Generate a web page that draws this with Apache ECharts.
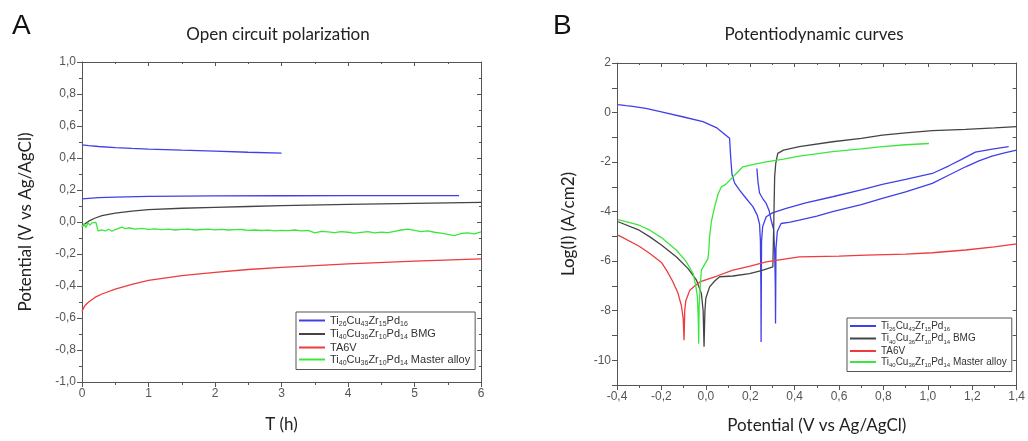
<!DOCTYPE html>
<html lang="en">
<head>
<meta charset="UTF-8">
<style>
  html, body { margin: 0; height: 100%; background: #fff; }
  #chart { width: 1028px; height: 441px; }
</style>
</head>
<body>
<div id="chart"></div>
<script src="https://cdn.jsdelivr.net/npm/echarts@6/dist/echarts.min.js"></script>
<script>
// ---- legend names ----
var seriesNames = ['Ti26Cu43Zr15Pd16', 'Ti40Cu36Zr10Pd14 BMG', 'TA6V', 'Ti40Cu36Zr10Pd14 Master alloy'];

// ---- A: open circuit polarization (T in h, potential in V) ----
var ocpBlueUpT = [0, 0.1, 0.25, 0.5, 0.75, 1, 1.5, 2, 2.5, 3];
var ocpBlueUpV = [0.482, 0.477, 0.472, 0.465, 0.46, 0.456, 0.449, 0.443, 0.436, 0.43];
var ocpBlueLowT = [0, 0.1, 0.25, 0.5, 1, 1.5, 2, 3, 4, 5, 5.67];
var ocpBlueLowV = [0.145, 0.148, 0.152, 0.156, 0.16, 0.162, 0.163, 0.164, 0.165, 0.165, 0.165];
var ocpBlackT = [0, 0.05, 0.1, 0.2, 0.3, 0.5, 0.75, 1, 1.5, 2, 2.5, 3, 4, 5, 6];
var ocpBlackV = [-0.03, -0.01, 0.005, 0.025, 0.04, 0.055, 0.068, 0.077, 0.086, 0.092, 0.097, 0.102, 0.11, 0.117, 0.123];
var ocpRedT = [0, 0.02, 0.05, 0.1, 0.2, 0.3, 0.5, 0.75, 1, 1.5, 2, 2.5, 3, 4, 5, 6];
var ocpRedV = [-0.56, -0.54, -0.52, -0.5, -0.47, -0.45, -0.42, -0.39, -0.365, -0.335, -0.315, -0.297, -0.283, -0.262, -0.245, -0.23];
var ocpGreenT = [0, 0.03, 0.06, 0.09, 0.12, 0.15, 0.18, 0.21, 0.24, 0.27, 0.3, 0.35, 0.4, 0.45, 0.5, 0.55, 0.6, 0.65,
  0.7, 0.8, 0.9, 1.0, 1.1, 1.2, 1.3, 1.4, 1.5, 1.6, 1.7, 1.8, 1.9, 2.0, 2.1, 2.2, 2.3, 2.4, 2.5, 2.6, 2.7, 2.8, 2.9,
  3.0, 3.1, 3.2, 3.3, 3.4, 3.5, 3.6, 3.7, 3.8, 3.9, 4.0, 4.1, 4.2, 4.3, 4.4, 4.5, 4.6, 4.7, 4.8, 4.9, 5.0, 5.1, 5.2,
  5.3, 5.4, 5.5, 5.6, 5.7, 5.8, 5.9, 6.0];
var ocpGreenV = [-0.03, -0.01, -0.035, -0.005, -0.02, -0.005, 0.0, -0.002, -0.055, -0.06, -0.05, -0.056, -0.045, -0.058, -0.048, -0.04, -0.032, -0.042,
  -0.036, -0.045, -0.04, -0.046, -0.043, -0.048, -0.044, -0.05, -0.046, -0.045, -0.05, -0.047, -0.044, -0.049, -0.046, -0.05, -0.048, -0.047, -0.052, -0.05, -0.053, -0.051, -0.055,
  -0.052, -0.054, -0.05, -0.056, -0.053, -0.068, -0.058, -0.062, -0.066, -0.06, -0.064, -0.07, -0.065, -0.06, -0.068, -0.063, -0.066, -0.058, -0.05, -0.044, -0.052, -0.06, -0.056,
  -0.064, -0.07, -0.078, -0.085, -0.072, -0.068, -0.074, -0.062];

// ---- B: potentiodynamic curves (potential in V, log I) ----
var pdBlue1E = [-0.395, -0.36, -0.33, -0.27, -0.2, -0.1, -0.013, 0.05, 0.107, 0.112, 0.118, 0.13, 0.152, 0.18, 0.212, 0.232, 0.242, 0.246, 0.248, 0.249,
  0.251, 0.256, 0.272, 0.3, 0.362, 0.45, 0.571, 0.7, 0.795, 0.9, 1.02, 1.095, 1.15, 1.214, 1.29, 1.364];
var pdBlue1L = [0.32, 0.28, 0.25, 0.17, 0.03, -0.18, -0.37, -0.62, -1.04, -1.8, -2.5, -2.85, -3.13, -3.45, -3.8, -4.15, -4.5, -5.2, -7.0, -9.26,
  -5.2, -4.6, -4.21, -4.05, -3.87, -3.65, -3.4, -3.12, -2.9, -2.7, -2.46, -2.15, -1.9, -1.6, -1.48, -1.38];
var pdBlue2E = [0.23, 0.235, 0.242, 0.258, 0.272, 0.285, 0.294, 0.305, 0.31, 0.313, 0.314, 0.316, 0.322, 0.339, 0.38, 0.421, 0.5, 0.571,
  0.7, 0.795, 0.9, 1.02, 1.1, 1.17, 1.23, 1.289, 1.35, 1.4];
var pdBlue2L = [-2.26, -2.8, -3.25, -3.5, -3.67, -3.95, -4.34, -4.7, -5.5, -7.0, -8.52, -5.5, -4.8, -4.48, -4.42, -4.34, -4.18, -4.0,
  -3.72, -3.47, -3.2, -2.86, -2.5, -2.19, -1.95, -1.76, -1.62, -1.52];
var pdBlackE = [-0.395, -0.3, -0.252, -0.2, -0.132, -0.08, -0.042, -0.02, -0.012, -0.008, -0.004, 0.0, 0.017, 0.04, 0.062, 0.122, 0.197, 0.25,
  0.302, 0.306, 0.31, 0.315, 0.324, 0.35, 0.421, 0.571, 0.7, 0.795, 0.9, 1.02, 1.17, 1.3, 1.4];
var pdBlackL = [-4.41, -4.75, -5.02, -5.35, -5.83, -6.3, -6.77, -7.3, -8.0, -9.46, -8.0, -7.5, -7.04, -6.8, -6.63, -6.6, -6.5, -6.38,
  -6.23, -4.5, -2.6, -2.05, -1.65, -1.52, -1.38, -1.18, -1.04, -0.91, -0.82, -0.73, -0.68, -0.62, -0.57];
var pdRedE = [-0.395, -0.3, -0.252, -0.2, -0.177, -0.15, -0.125, -0.11, -0.102, -0.098, -0.095, -0.09, -0.072, -0.05, -0.027, 0.05, 0.122,
  0.2, 0.272, 0.421, 0.6, 0.721, 0.9, 1.02, 1.17, 1.3, 1.4];
var pdRedL = [-4.95, -5.4, -5.69, -6.05, -6.36, -6.8, -7.3, -7.8, -8.3, -9.19, -8.0, -7.6, -7.17, -7.0, -6.84, -6.6, -6.36,
  -6.2, -6.03, -5.83, -5.8, -5.76, -5.72, -5.66, -5.55, -5.42, -5.3];
var pdGreenE = [-0.395, -0.3, -0.252, -0.2, -0.132, -0.09, -0.057, -0.045, -0.038, -0.034, -0.032, -0.03, -0.025, -0.02, 0.0, 0.01, 0.014,
  0.017, 0.025, 0.04, 0.055, 0.07, 0.09, 0.122, 0.167, 0.22, 0.272, 0.35, 0.421, 0.571, 0.7, 0.795, 0.9, 1.005];
var pdGreenL = [-4.32, -4.55, -4.75, -5.05, -5.56, -6.0, -6.5, -7.0, -7.44, -8.3, -9.33, -7.8, -7.0, -6.36, -6.05, -5.89, -5.5,
  -5.02, -4.4, -3.8, -3.3, -3.0, -2.9, -2.6, -2.19, -2.08, -1.99, -1.88, -1.76, -1.58, -1.47, -1.38, -1.3, -1.25];

var colors = { blue: '#4040e8', black: '#444444', red: '#ee3b3b', green: '#3ce63c' };

function pairs(xs, ys) {
    var out = [];
    for (var i = 0; i < xs.length; i++) out.push([xs[i], ys[i]]);
    return out;
}

function comma(v) {
    return v.toFixed(1).replace('.', ',');
}

// chemical formula -> rich text with subscripts
function legendText(name) {
    if (name.indexOf('Ti') !== 0) return '{n|' + name + '}';
    var parts = name.split(' ');
    var formula = parts[0].replace(/([A-Za-z]+)(\d+)/g, '{n|$1}{s|$2}');
    var rest = parts.slice(1).join(' ');
    return formula + (rest ? '{n| ' + rest + '}' : '');
}

var labelStyle = { fontFamily: 'Liberation Sans', fontSize: 12, color: '#555' };
var nameStyle = { fontFamily: 'Lato', fontSize: 17, color: '#222' };
var lineCol = '#555';

function mainAxis(pos, grid, opts) {
    var ax = {
        type: 'value', gridIndex: grid, position: pos,
        min: opts.min, max: opts.max, interval: opts.interval,
        axisLine: { show: true, onZero: false, lineStyle: { color: lineCol, width: 1 } },
        axisTick: { show: true, length: 5, lineStyle: { color: lineCol } },
        minorTick: { show: true, splitNumber: opts.minor || 2, length: 3, lineStyle: { color: lineCol } },
        splitLine: { show: false },
        axisLabel: Object.assign({ margin: 6, formatter: opts.fmt }, labelStyle),
        name: opts.name, nameLocation: 'middle', nameGap: opts.gap, nameTextStyle: nameStyle
    };
    return ax;
}

function mirrorAxis(pos, grid, opts) {
    return {
        type: 'value', gridIndex: grid, position: pos,
        min: opts.min, max: opts.max, interval: opts.interval,
        axisLine: { show: true, onZero: false, lineStyle: { color: lineCol, width: 1 } },
        axisTick: { show: true, inside: true, length: 4, lineStyle: { color: lineCol } },
        minorTick: { show: true, splitNumber: opts.minor || 2, length: 2, lineStyle: { color: lineCol } },
        splitLine: { show: false },
        axisLabel: { show: false }
    };
}

var axA_x = { min: 0, max: 6, interval: 1, fmt: function (v) { return String(v); }, name: 'T (h)', gap: 34 };
var axA_y = { min: -1, max: 1, interval: 0.2, fmt: comma, name: 'Potential (V vs Ag/AgCl)', gap: 48 };
var axB_x = { min: -0.4, max: 1.4, interval: 0.2, fmt: comma, name: 'Potential (V vs Ag/AgCl)', gap: 32 };
var axB_y = { min: -11, max: 2, interval: 1, minor: 1,
    fmt: function (v) { return (Math.round(v) % 2 === 0) ? String(Math.round(v)) : ''; },
    name: 'Log(I) (A/cm2)', gap: 40 };

function lineSeries(name, data, color, xi, yi) {
    return {
        name: name, type: 'line', data: data, xAxisIndex: xi, yAxisIndex: yi,
        showSymbol: false, symbol: 'none', smooth: false, animation: false,
        lineStyle: { color: color, width: 1.3 }, itemStyle: { color: color },
        emphasis: { disabled: true }
    };
}

var legendBase = {
    data: seriesNames, orient: 'vertical', icon: 'rect', itemWidth: 26, itemHeight: 2,
    itemGap: 1, borderColor: '#555', borderWidth: 1, borderRadius: 0, selectedMode: false,
    backgroundColor: '#fff', formatter: legendText
};

var chart = echarts.init(document.getElementById('chart'), null, { renderer: 'canvas' });
chart.setOption({
    animation: false,
    grid: [
        { left: 82, top: 62, width: 399, height: 320 },
        { left: 617, top: 63, width: 401, height: 322 }
    ],
    xAxis: [
        mainAxis('bottom', 0, axA_x), mirrorAxis('top', 0, axA_x),
        mainAxis('bottom', 1, axB_x), mirrorAxis('top', 1, axB_x)
    ],
    yAxis: [
        mainAxis('left', 0, axA_y), mirrorAxis('right', 0, axA_y),
        mainAxis('left', 1, axB_y), mirrorAxis('right', 1, axB_y)
    ],
    legend: [
        Object.assign({}, legendBase, {
            left: 296, top: 312, padding: [3, 5, 3, 3],
            textStyle: { rich: {
                n: { fontFamily: 'Liberation Sans', fontSize: 11, color: '#333', lineHeight: 14 },
                s: { fontFamily: 'Liberation Sans', fontSize: 7, color: '#333', lineHeight: 6, verticalAlign: 'bottom' }
            } }
        }),
        Object.assign({}, legendBase, {
            left: 847, top: 318, padding: [3, 5, 3, 3],
            textStyle: { rich: {
                n: { fontFamily: 'Liberation Sans', fontSize: 10, color: '#333', lineHeight: 13 },
                s: { fontFamily: 'Liberation Sans', fontSize: 6, color: '#333', lineHeight: 5, verticalAlign: 'bottom' }
            } }
        })
    ],
    graphic: [
        { type: 'text', x: 12, y: 12, style: { text: 'A', fontFamily: 'Liberation Sans', fontSize: 28, fill: '#111' } },
        { type: 'text', x: 553, y: 12, style: { text: 'B', fontFamily: 'Liberation Sans', fontSize: 28, fill: '#111' } },
        { type: 'text', x: 278, y: 35, style: { text: 'Open circuit polarization', fontFamily: 'Lato', fontSize: 17, fill: '#222', textAlign: 'center', textVerticalAlign: 'middle' } },
        { type: 'text', x: 814, y: 35, style: { text: 'Potentiodynamic curves', fontFamily: 'Lato', fontSize: 17, fill: '#222', textAlign: 'center', textVerticalAlign: 'middle' } }
    ],
    series: [
        lineSeries(seriesNames[0], pairs(ocpBlueUpT, ocpBlueUpV), colors.blue, 0, 0),
        lineSeries(seriesNames[0], pairs(ocpBlueLowT, ocpBlueLowV), colors.blue, 0, 0),
        lineSeries(seriesNames[1], pairs(ocpBlackT, ocpBlackV), colors.black, 0, 0),
        lineSeries(seriesNames[2], pairs(ocpRedT, ocpRedV), colors.red, 0, 0),
        lineSeries(seriesNames[3], pairs(ocpGreenT, ocpGreenV), colors.green, 0, 0),
        lineSeries(seriesNames[0], pairs(pdBlue1E, pdBlue1L), colors.blue, 2, 2),
        lineSeries(seriesNames[0], pairs(pdBlue2E, pdBlue2L), colors.blue, 2, 2),
        lineSeries(seriesNames[1], pairs(pdBlackE, pdBlackL), colors.black, 2, 2),
        lineSeries(seriesNames[2], pairs(pdRedE, pdRedL), colors.red, 2, 2),
        lineSeries(seriesNames[3], pairs(pdGreenE, pdGreenL), colors.green, 2, 2)
    ]
});
</script>
</body>
</html>
